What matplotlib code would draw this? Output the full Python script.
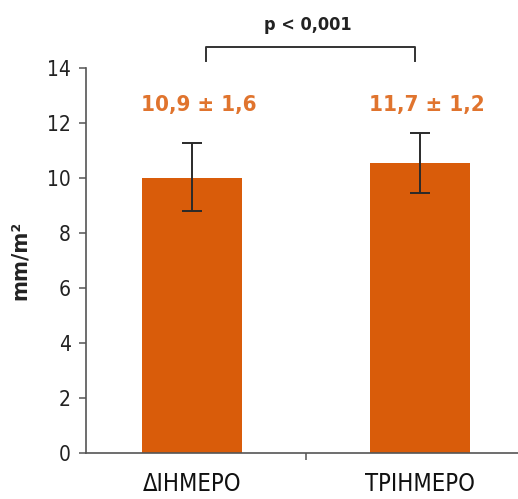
import matplotlib
matplotlib.use("Agg")
from matplotlib import pyplot as plt

# dane
categories = ["ΔΙΗΜΕΡΟ", "ΤΡΙΗΜΕΡΟ"]
values = [10.0, 10.55]
err_low = [1.2, 1.1]
err_high = [1.27, 1.09]
value_labels = ["10,9 ± 1,6", "11,7 ± 1,2"]
p_text = "p < 0,001"
yticks = [0, 2, 4, 6, 8, 10, 12, 14]

plt.rcParams['font.family'] = ['DejaVu Sans Condensed', 'DejaVu Sans']
plt.rcParams['font.stretch'] = 'condensed'

fig = plt.figure(figsize=(5.18, 4.99), dpi=100)
ax = fig.add_axes([0.166, 0.092, 0.834, 0.7715])

xs = list(range(len(categories)))
ax.bar(xs, values, width=0.44, color="#d95c0a", zorder=2)
ax.errorbar(xs, values, yerr=[err_low, err_high], fmt="none",
            ecolor="#2a2a2a", elinewidth=1.4, capsize=7, capthick=1.4, zorder=3)

for x, lab in zip(xs, value_labels):
    ax.text(x + 0.03, 12.65, lab, ha="center", va="center", fontsize=16,
            color="#e0742e", fontweight="bold")

# klamra z wartością p
bx = [0.06, 0.06, 0.98, 0.98]
by = [14.25, 14.76, 14.76, 14.25]
ax.plot(bx, by, color="#333333", lw=1.4, clip_on=False)
ax.text(0.51, 15.55, p_text, ha="center", va="center", fontsize=13,
        fontweight="bold", color="#222222")

ax.set_xlim(-0.465, 1.43)
ax.set_ylim(0, 14)
ax.set_yticks(yticks)
ax.set_yticklabels([str(t) for t in yticks], fontsize=15, color="#222222")
ax.set_xticks([0.5])
ax.set_xticklabels([""])
for x, c in zip(xs, categories):
    ax.text(x, -0.7, c, ha="center", va="top", fontsize=17, color="#111111")

ax.set_ylabel("mm/m²", fontsize=16, fontweight="bold", color="#222222", labelpad=12)

for s in ["top", "right"]:
    ax.spines[s].set_visible(False)
for s in ["left", "bottom"]:
    ax.spines[s].set_color("#555555")
    ax.spines[s].set_linewidth(1.2)
ax.tick_params(axis="y", length=5, color="#555555", width=1.1, pad=6)
ax.tick_params(axis="x", length=5, color="#555555", width=1.1)

fig.savefig("out.png", dpi=100)
